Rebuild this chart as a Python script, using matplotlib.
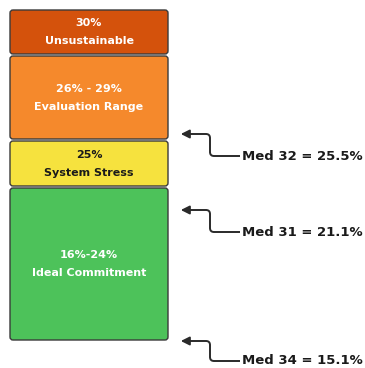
import matplotlib
matplotlib.use("Agg")
import matplotlib.pyplot as plt
from matplotlib.patches import FancyBboxPatch, PathPatch
from matplotlib.path import Path

# Data (top to bottom)
range_labels = ["30%", "26% - 29%", "25%", "16%-24%"]
zone_names = ["Unsustainable", "Evaluation Range", "System Stress", "Ideal Commitment"]
zone_colors = ["#D4520C", "#F5892C", "#F6E23E", "#4DC25A"]
text_colors = ["white", "white", "#1a1a1a", "white"]
# diagram layout (pixel units, top-down)
zone_top = [10, 56, 141, 188]
zone_bottom = [54, 139, 186, 340]

med_labels = ["Med 32 = 25.5%", "Med 31 = 21.1%", "Med 34 = 15.1%"]
med_arrow_y = [134, 210, 341]
med_text_y = [156, 232, 361]

fig = plt.figure(figsize=(3.65, 3.68), dpi=100)
ax = fig.add_axes([0, 0, 1, 1])
ax.set_xlim(0, 365)
ax.set_ylim(368, 0)
ax.axis("off")

x0, x1 = 10, 168
for lab, name, c, tc, t, b in zip(range_labels, zone_names, zone_colors, text_colors, zone_top, zone_bottom):
    p = FancyBboxPatch((x0, t), x1 - x0, b - t,
                       boxstyle="round,pad=0,rounding_size=3",
                       facecolor=c, edgecolor="#3a3a3a", linewidth=1.0)
    ax.add_patch(p)
    cy = (t + b) / 2
    ax.text((x0 + x1) / 2, cy - 9, lab, ha="center", va="center",
            color=tc, fontsize=8, fontweight="bold", family="DejaVu Sans")
    ax.text((x0 + x1) / 2, cy + 9, name, ha="center", va="center",
            color=tc, fontsize=8, fontweight="bold", family="DejaVu Sans")

cx, r = 210, 4
for lab, ay, ty in zip(med_labels, med_arrow_y, med_text_y):
    verts = [(240, ty), (cx + r, ty), (cx, ty), (cx, ty - r),
             (cx, ay + r), (cx, ay), (cx - r, ay), (186, ay)]
    codes = [Path.MOVETO, Path.LINETO, Path.CURVE3, Path.CURVE3,
             Path.LINETO, Path.CURVE3, Path.CURVE3, Path.LINETO]
    ax.add_patch(PathPatch(Path(verts, codes), facecolor="none",
                           edgecolor="#2a2a2a", lw=1.4))
    ax.annotate("", xy=(178, ay), xytext=(188, ay),
                arrowprops=dict(arrowstyle="-|>,head_length=0.5,head_width=0.25",
                                color="#2a2a2a", lw=1.4))
    ax.text(242, ty, lab, ha="left", va="center", fontsize=9.5,
            fontweight="bold", color="#1a1a1a", family="DejaVu Sans")

fig.savefig("out.png", dpi=100, facecolor="white")
